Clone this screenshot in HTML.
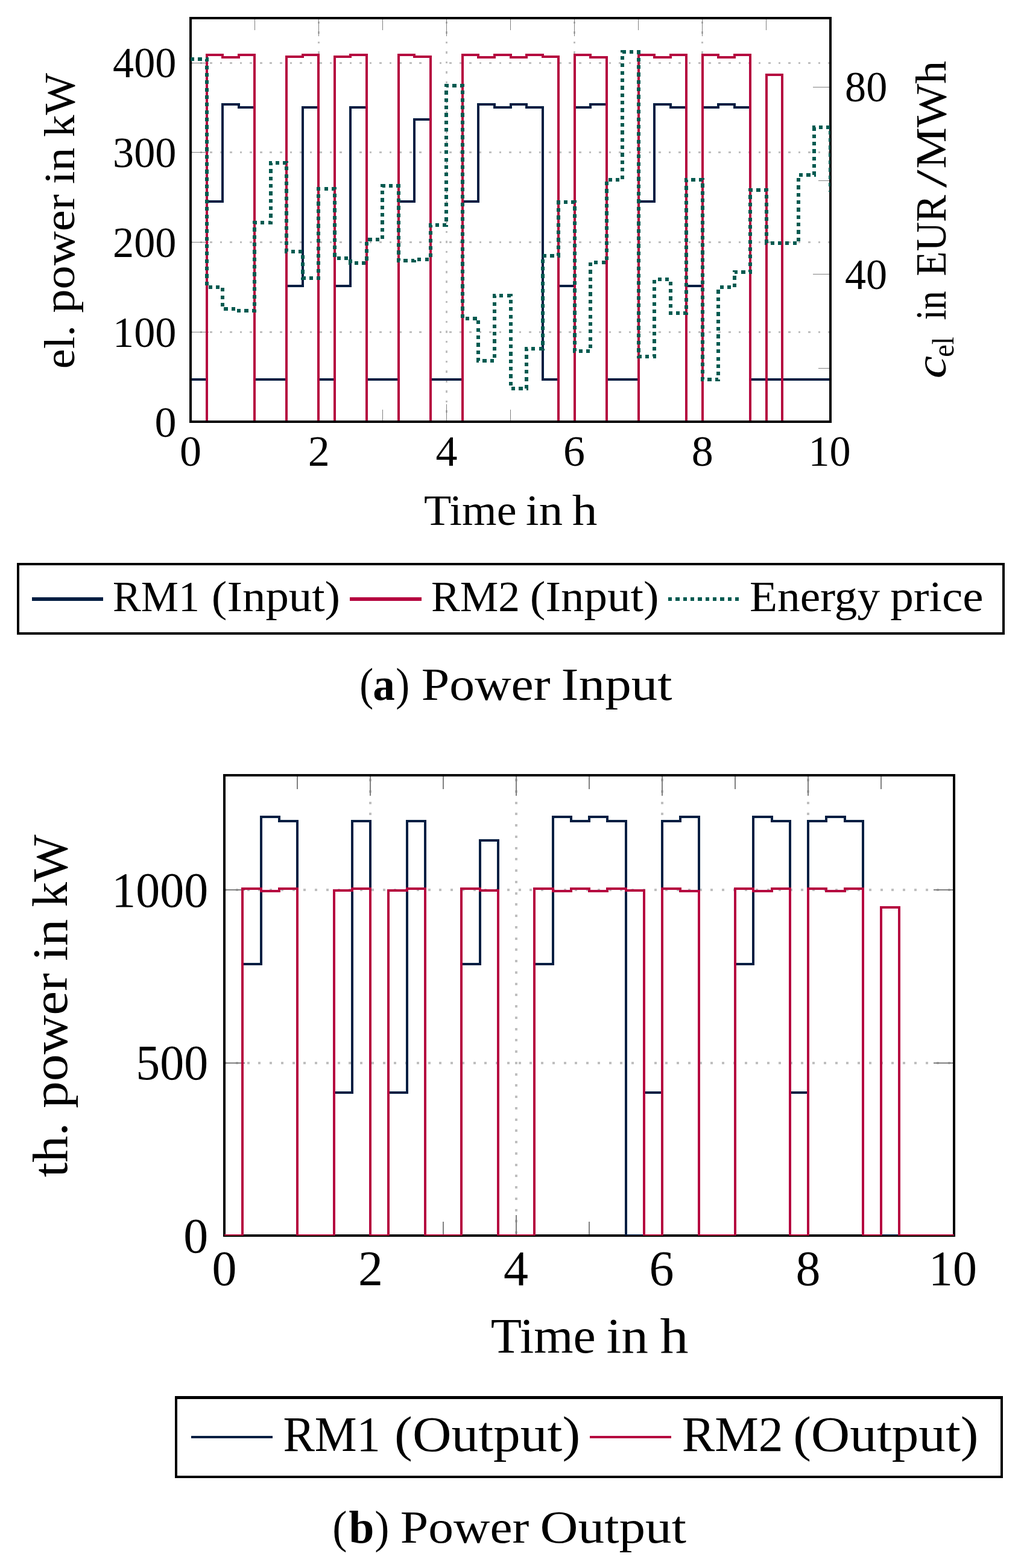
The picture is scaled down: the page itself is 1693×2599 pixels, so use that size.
<!DOCTYPE html>
<html lang="en"><head><meta charset="utf-8"><title>Power Input / Power Output</title>
<style>html,body{margin:0;padding:0;background:#fff}svg{display:block}text{font-family:"Liberation Serif", "DejaVu Serif", serif;fill:#000}</style>
</head><body>
<svg width="1693" height="2599" viewBox="0 0 1693 2599">
<rect width="1693" height="2599" fill="#fff"/>
<g shape-rendering="crispEdges" fill="none">
<clipPath id="c1"><rect x="316.00" y="30.00" width="1061.00" height="669.00"/></clipPath>
<line x1="528.50" y1="700.50" x2="528.50" y2="30.00" stroke="#BFBFBF" stroke-width="3.00" stroke-dasharray="3.600 12.933"/>
<line x1="740.50" y1="700.50" x2="740.50" y2="30.00" stroke="#BFBFBF" stroke-width="3.00" stroke-dasharray="3.600 12.933"/>
<line x1="952.50" y1="700.50" x2="952.50" y2="30.00" stroke="#BFBFBF" stroke-width="3.00" stroke-dasharray="3.600 12.933"/>
<line x1="1164.50" y1="700.50" x2="1164.50" y2="30.00" stroke="#BFBFBF" stroke-width="3.00" stroke-dasharray="3.600 12.933"/>
<line x1="315.20" y1="550.50" x2="1377.00" y2="550.50" stroke="#BFBFBF" stroke-width="3.00" stroke-dasharray="3.600 12.933"/>
<line x1="315.20" y1="401.50" x2="1377.00" y2="401.50" stroke="#BFBFBF" stroke-width="3.00" stroke-dasharray="3.600 12.933"/>
<line x1="315.20" y1="252.50" x2="1377.00" y2="252.50" stroke="#BFBFBF" stroke-width="3.00" stroke-dasharray="3.600 12.933"/>
<line x1="315.20" y1="104.50" x2="1377.00" y2="104.50" stroke="#BFBFBF" stroke-width="3.00" stroke-dasharray="3.600 12.933"/>
<line x1="528.20" y1="30.00" x2="528.20" y2="59.50" stroke="#808080" stroke-width="1.00"/>
<line x1="528.20" y1="699.00" x2="528.20" y2="669.50" stroke="#808080" stroke-width="1.00"/>
<line x1="740.40" y1="30.00" x2="740.40" y2="59.50" stroke="#808080" stroke-width="1.00"/>
<line x1="740.40" y1="699.00" x2="740.40" y2="669.50" stroke="#808080" stroke-width="1.00"/>
<line x1="952.60" y1="30.00" x2="952.60" y2="59.50" stroke="#808080" stroke-width="1.00"/>
<line x1="952.60" y1="699.00" x2="952.60" y2="669.50" stroke="#808080" stroke-width="1.00"/>
<line x1="1164.80" y1="30.00" x2="1164.80" y2="59.50" stroke="#808080" stroke-width="1.00"/>
<line x1="1164.80" y1="699.00" x2="1164.80" y2="669.50" stroke="#808080" stroke-width="1.00"/>
<line x1="422.10" y1="30.00" x2="422.10" y2="49.70" stroke="#808080" stroke-width="1.00"/>
<line x1="422.10" y1="699.00" x2="422.10" y2="679.30" stroke="#808080" stroke-width="1.00"/>
<line x1="634.30" y1="30.00" x2="634.30" y2="49.70" stroke="#808080" stroke-width="1.00"/>
<line x1="634.30" y1="699.00" x2="634.30" y2="679.30" stroke="#808080" stroke-width="1.00"/>
<line x1="846.50" y1="30.00" x2="846.50" y2="49.70" stroke="#808080" stroke-width="1.00"/>
<line x1="846.50" y1="699.00" x2="846.50" y2="679.30" stroke="#808080" stroke-width="1.00"/>
<line x1="1058.70" y1="30.00" x2="1058.70" y2="49.70" stroke="#808080" stroke-width="1.00"/>
<line x1="1058.70" y1="699.00" x2="1058.70" y2="679.30" stroke="#808080" stroke-width="1.00"/>
<line x1="1270.90" y1="30.00" x2="1270.90" y2="49.70" stroke="#808080" stroke-width="1.00"/>
<line x1="1270.90" y1="699.00" x2="1270.90" y2="679.30" stroke="#808080" stroke-width="1.00"/>
<line x1="316.00" y1="550.50" x2="345.50" y2="550.50" stroke="#808080" stroke-width="1.00"/>
<line x1="316.00" y1="401.70" x2="345.50" y2="401.70" stroke="#808080" stroke-width="1.00"/>
<line x1="316.00" y1="252.90" x2="345.50" y2="252.90" stroke="#808080" stroke-width="1.00"/>
<line x1="316.00" y1="104.10" x2="345.50" y2="104.10" stroke="#808080" stroke-width="1.00"/>
<line x1="1377.00" y1="144.40" x2="1347.50" y2="144.40" stroke="#808080" stroke-width="1.00"/>
<line x1="1377.00" y1="454.40" x2="1347.50" y2="454.40" stroke="#808080" stroke-width="1.00"/>
<line x1="1377.00" y1="299.40" x2="1357.30" y2="299.40" stroke="#808080" stroke-width="1.00"/>
<line x1="1377.00" y1="610.40" x2="1357.30" y2="610.40" stroke="#808080" stroke-width="1.00"/>
<rect x="316.00" y="30.00" width="1061.00" height="669.00" stroke="#000" stroke-width="4.00"/>
<path clip-path="url(#c1)" d="M316.00 629.40H342.52V334.00H369.05V173.00H395.57V178.00H422.10V629.40H448.62H475.15V474.00H501.67V178.00H528.20V629.40H554.73V474.00H581.25V178.00H607.77V629.40H634.30H660.83V334.00H687.35V198.40H713.88V629.40H740.40H766.92V334.00H793.45V173.00H819.97V178.00H846.50V173.00H873.02V178.00H899.55V629.40H926.07V474.00H952.60V178.00H979.12V173.00H1005.65V629.40H1032.17H1058.70V334.00H1085.22V173.00H1111.75V178.00H1138.28V474.00H1164.80V178.00H1191.32V173.00H1217.85V178.00H1244.38V629.40H1270.90H1297.42H1323.95H1350.47H1377.00" stroke="#041E42" stroke-width="4.00" stroke-linejoin="miter"/>
<path clip-path="url(#c1)" d="M316.00 699.50H342.52V91.00H369.05V95.00H395.57V91.00H422.10V699.50H448.62H475.15V94.30H501.67V91.00H528.20V699.50H554.73V94.30H581.25V91.00H607.77V699.50H634.30H660.83V91.00H687.35V94.30H713.88V699.50H740.40H766.92V91.00H793.45V95.00H819.97V91.00H846.50V95.00H873.02V91.00H899.55V94.30H926.07V699.50H952.60V91.00H979.12V95.00H1005.65V699.50H1032.17H1058.70V91.00H1085.22V95.00H1111.75V91.00H1138.28V699.50H1164.80V91.00H1191.32V95.00H1217.85V91.00H1244.38V699.50H1270.90V124.00H1297.42V699.50H1323.95H1350.47H1377.00" stroke="#B5053F" stroke-width="4.00" stroke-linejoin="miter"/>
<rect x="316.00" y="30.00" width="1061.00" height="669.00" stroke="#000" stroke-width="4.00"/>
<path clip-path="url(#c1)" d="M316.00 98.00H342.52V476.00H369.05V512.00H395.57V515.00H422.10V369.00H448.62V270.00H475.15V417.00H501.67V461.00H528.20V313.00H554.73V428.00H581.25V436.00H607.77V397.00H634.30V308.00H660.83V431.50H687.35V429.50H713.88V373.00H740.40V142.00H766.92V528.00H793.45V598.40H819.97V490.40H846.50V643.60H873.02V578.00H899.55V424.00H926.07V335.40H952.60V582.40H979.12V435.00H1005.65V298.00H1032.17V86.00H1058.70V590.60H1085.22V463.00H1111.75V519.40H1138.28V298.00H1164.80V629.20H1191.32V476.40H1217.85V450.60H1244.38V315.00H1270.90V403.00H1297.42H1323.95V290.00H1350.47V211.40H1377.00V318.00" stroke="#005A50" stroke-width="6.00" stroke-linejoin="miter" stroke-dasharray="6.2 6.15"/>
</g>
<g shape-rendering="crispEdges" fill="none">
<clipPath id="c2"><rect x="372.00" y="1285.00" width="1210.00" height="763.00"/></clipPath>
<line x1="614.00" y1="2045.00" x2="614.00" y2="1285.00" stroke="#BFBFBF" stroke-width="4.00" stroke-dasharray="4.000 14.750"/>
<line x1="856.00" y1="2045.00" x2="856.00" y2="1285.00" stroke="#BFBFBF" stroke-width="4.00" stroke-dasharray="4.000 14.750"/>
<line x1="1098.00" y1="2045.00" x2="1098.00" y2="1285.00" stroke="#BFBFBF" stroke-width="4.00" stroke-dasharray="4.000 14.750"/>
<line x1="1340.00" y1="2045.00" x2="1340.00" y2="1285.00" stroke="#BFBFBF" stroke-width="4.00" stroke-dasharray="4.000 14.750"/>
<line x1="372.00" y1="1475.00" x2="1582.00" y2="1475.00" stroke="#BFBFBF" stroke-width="4.00" stroke-dasharray="4.000 14.750"/>
<line x1="372.00" y1="1762.00" x2="1582.00" y2="1762.00" stroke="#BFBFBF" stroke-width="4.00" stroke-dasharray="4.000 14.750"/>
<line x1="614.00" y1="1285.00" x2="614.00" y2="1318.78" stroke="#808080" stroke-width="2.00"/>
<line x1="614.00" y1="2048.00" x2="614.00" y2="2014.22" stroke="#808080" stroke-width="2.00"/>
<line x1="856.00" y1="1285.00" x2="856.00" y2="1318.78" stroke="#808080" stroke-width="2.00"/>
<line x1="856.00" y1="2048.00" x2="856.00" y2="2014.22" stroke="#808080" stroke-width="2.00"/>
<line x1="1098.00" y1="1285.00" x2="1098.00" y2="1318.78" stroke="#808080" stroke-width="2.00"/>
<line x1="1098.00" y1="2048.00" x2="1098.00" y2="2014.22" stroke="#808080" stroke-width="2.00"/>
<line x1="1340.00" y1="1285.00" x2="1340.00" y2="1318.78" stroke="#808080" stroke-width="2.00"/>
<line x1="1340.00" y1="2048.00" x2="1340.00" y2="2014.22" stroke="#808080" stroke-width="2.00"/>
<line x1="493.00" y1="1285.00" x2="493.00" y2="1307.56" stroke="#808080" stroke-width="2.00"/>
<line x1="493.00" y1="2048.00" x2="493.00" y2="2025.44" stroke="#808080" stroke-width="2.00"/>
<line x1="735.00" y1="1285.00" x2="735.00" y2="1307.56" stroke="#808080" stroke-width="2.00"/>
<line x1="735.00" y1="2048.00" x2="735.00" y2="2025.44" stroke="#808080" stroke-width="2.00"/>
<line x1="977.00" y1="1285.00" x2="977.00" y2="1307.56" stroke="#808080" stroke-width="2.00"/>
<line x1="977.00" y1="2048.00" x2="977.00" y2="2025.44" stroke="#808080" stroke-width="2.00"/>
<line x1="1219.00" y1="1285.00" x2="1219.00" y2="1307.56" stroke="#808080" stroke-width="2.00"/>
<line x1="1219.00" y1="2048.00" x2="1219.00" y2="2025.44" stroke="#808080" stroke-width="2.00"/>
<line x1="1461.00" y1="1285.00" x2="1461.00" y2="1307.56" stroke="#808080" stroke-width="2.00"/>
<line x1="1461.00" y1="2048.00" x2="1461.00" y2="2025.44" stroke="#808080" stroke-width="2.00"/>
<line x1="372.00" y1="1475.00" x2="405.78" y2="1475.00" stroke="#808080" stroke-width="2.00"/>
<line x1="372.00" y1="1761.60" x2="405.78" y2="1761.60" stroke="#808080" stroke-width="2.00"/>
<line x1="1582.00" y1="1475.00" x2="1548.22" y2="1475.00" stroke="#808080" stroke-width="2.00"/>
<line x1="1582.00" y1="1761.60" x2="1548.22" y2="1761.60" stroke="#808080" stroke-width="2.00"/>
<rect x="372.00" y="1285.00" width="1210.00" height="763.00" stroke="#000" stroke-width="4.40"/>
<path clip-path="url(#c2)" d="M372.00 2048.00H402.25V1598.00H432.50V1354.00H462.75V1361.00H493.00V2048.00H523.25H553.50V1811.00H583.75V1361.00H614.00V2048.00H644.25V1811.00H674.50V1361.00H704.75V2048.00H735.00H765.25V1598.00H795.50V1393.00H825.75V2048.00H856.00H886.25V1598.00H916.50V1354.00H946.75V1361.00H977.00V1354.00H1007.25V1361.00H1037.50V2048.00H1067.75V1811.00H1098.00V1361.00H1128.25V1354.00H1158.50V2048.00H1188.75H1219.00V1598.00H1249.25V1354.00H1279.50V1361.00H1309.75V1811.00H1340.00V1361.00H1370.25V1354.00H1400.50V1361.00H1430.75V2048.00H1461.00H1491.25H1521.50H1551.75H1582.00" stroke="#041E42" stroke-width="4.00" stroke-linejoin="miter"/>
<path clip-path="url(#c2)" d="M372.00 2048.00H402.25V1473.00H432.50V1477.00H462.75V1473.00H493.00V2048.00H523.25H553.50V1476.00H583.75V1473.00H614.00V2048.00H644.25V1476.00H674.50V1473.00H704.75V2048.00H735.00H765.25V1473.00H795.50V1476.00H825.75V2048.00H856.00H886.25V1473.00H916.50V1477.00H946.75V1473.00H977.00V1477.00H1007.25V1473.00H1037.50V1476.00H1067.75V2048.00H1098.00V1473.00H1128.25V1477.00H1158.50V2048.00H1188.75H1219.00V1473.00H1249.25V1477.00H1279.50V1473.00H1309.75V2048.00H1340.00V1473.00H1370.25V1477.00H1400.50V1473.00H1430.75V2048.00H1461.00V1504.00H1491.25V2048.00H1521.50H1551.75H1582.00" stroke="#B5053F" stroke-width="4.00" stroke-linejoin="miter"/>
</g>
<text font-size="72.0"><tspan y="870.0" x="702.97" textLength="153.52" lengthAdjust="spacingAndGlyphs">Time</tspan> <tspan y="870.0" x="871.81" textLength="61.30" lengthAdjust="spacingAndGlyphs">in</tspan> <tspan y="870.0" x="948.84" textLength="41.72" lengthAdjust="spacingAndGlyphs">h</tspan></text>
<text font-size="72.0"><tspan y="1012.6" x="187.06" textLength="143.88" lengthAdjust="spacingAndGlyphs">RM1</tspan> <tspan y="1012.6" x="350.80" textLength="213.34" lengthAdjust="spacingAndGlyphs">(Input)</tspan></text>
<text font-size="72.0"><tspan y="1012.6" x="715.01" textLength="147.00" lengthAdjust="spacingAndGlyphs">RM2</tspan> <tspan y="1012.6" x="878.79" textLength="213.75" lengthAdjust="spacingAndGlyphs">(Input)</tspan></text>
<text font-size="72.0"><tspan y="1012.6" x="1242.91" textLength="216.35" lengthAdjust="spacingAndGlyphs">Energy</tspan> <tspan y="1012.6" x="1476.23" textLength="154.39" lengthAdjust="spacingAndGlyphs">price</tspan></text>
<text font-size="76.5"><tspan y="1159.6" x="596.30" textLength="22.94" lengthAdjust="spacingAndGlyphs">(</tspan><tspan y="1159.6" x="618.13" textLength="36.56" lengthAdjust="spacingAndGlyphs" font-weight="bold">a</tspan><tspan y="1159.6" x="656.20" textLength="22.94" lengthAdjust="spacingAndGlyphs">)</tspan> <tspan y="1159.6" x="698.81" textLength="213.72" lengthAdjust="spacingAndGlyphs">Power</tspan> <tspan y="1159.6" x="930.58" textLength="183.97" lengthAdjust="spacingAndGlyphs">Input</tspan></text>
<text font-size="82.0"><tspan y="2241.8" x="813.68" textLength="174.17" lengthAdjust="spacingAndGlyphs">Time</tspan> <tspan y="2241.8" x="1005.42" textLength="69.44" lengthAdjust="spacingAndGlyphs">in</tspan> <tspan y="2241.8" x="1094.55" textLength="46.99" lengthAdjust="spacingAndGlyphs">h</tspan></text>
<text font-size="82.0"><tspan y="2405.0" x="469.38" textLength="161.53" lengthAdjust="spacingAndGlyphs">RM1</tspan> <tspan y="2405.0" x="654.14" textLength="308.08" lengthAdjust="spacingAndGlyphs">(Output)</tspan></text>
<text font-size="82.0"><tspan y="2405.0" x="1130.81" textLength="167.78" lengthAdjust="spacingAndGlyphs">RM2</tspan> <tspan y="2405.0" x="1315.15" textLength="307.36" lengthAdjust="spacingAndGlyphs">(Output)</tspan></text>
<text font-size="76.5"><tspan y="2557.0" x="551.15" textLength="24.21" lengthAdjust="spacingAndGlyphs">(</tspan><tspan y="2557.0" x="578.62" textLength="41.88" lengthAdjust="spacingAndGlyphs" font-weight="bold">b</tspan><tspan y="2557.0" x="621.30" textLength="24.21" lengthAdjust="spacingAndGlyphs">)</tspan> <tspan y="2557.0" x="663.82" textLength="213.51" lengthAdjust="spacingAndGlyphs">Power</tspan> <tspan y="2557.0" x="895.58" textLength="242.41" lengthAdjust="spacingAndGlyphs">Output</tspan></text>
<text font-size="72.0" transform="translate(123.0 0) rotate(-90)"><tspan y="0.0" x="-611.29" textLength="72.11" lengthAdjust="spacingAndGlyphs">el.</tspan> <tspan y="0.0" x="-518.79" textLength="196.62" lengthAdjust="spacingAndGlyphs">power</tspan> <tspan y="0.0" x="-305.17" textLength="60.77" lengthAdjust="spacingAndGlyphs">in</tspan> <tspan y="0.0" x="-227.32" textLength="106.29" lengthAdjust="spacingAndGlyphs">kW</tspan></text>
<text font-size="72.0" transform="translate(1568.0 0) rotate(-90)"><tspan y="0.0" x="-627.34" textLength="37.48" lengthAdjust="spacingAndGlyphs" font-style="italic">c</tspan><tspan y="12.5" x="-591.84" textLength="33.56" lengthAdjust="spacingAndGlyphs" font-size="50.5">el</tspan> <tspan y="0.0" x="-530.42" textLength="48.30" lengthAdjust="spacingAndGlyphs">in</tspan> <tspan y="0.0" x="-457.67" textLength="134.67" lengthAdjust="spacingAndGlyphs">EUR</tspan><tspan y="0.0" x="-311.30" textLength="30.02" lengthAdjust="spacingAndGlyphs">/</tspan><tspan y="0.0" x="-279.53" textLength="178.88" lengthAdjust="spacingAndGlyphs">MWh</tspan></text>
<text font-size="82.0" transform="translate(111.0 0) rotate(-90)"><tspan y="0.0" x="-1951.38" textLength="90.78" lengthAdjust="spacingAndGlyphs">th.</tspan> <tspan y="0.0" x="-1837.09" textLength="224.10" lengthAdjust="spacingAndGlyphs">power</tspan> <tspan y="0.0" x="-1592.67" textLength="69.24" lengthAdjust="spacingAndGlyphs">in</tspan> <tspan y="0.0" x="-1503.43" textLength="120.14" lengthAdjust="spacingAndGlyphs">kW</tspan></text>
<g>
<text x="256.50" y="723.5" font-size="72.0">0</text>
<text x="187.12" y="574.7" font-size="72.0" textLength="105.30" lengthAdjust="spacingAndGlyphs">100</text>
<text x="187.12" y="425.9" font-size="72.0" textLength="105.30" lengthAdjust="spacingAndGlyphs">200</text>
<text x="187.12" y="277.1" font-size="72.0" textLength="105.30" lengthAdjust="spacingAndGlyphs">300</text>
<text x="187.12" y="128.3" font-size="72.0" textLength="105.30" lengthAdjust="spacingAndGlyphs">400</text>
<text x="298.00" y="772.2" font-size="72.0">0</text>
<text x="510.70" y="772.2" font-size="72.0">2</text>
<text x="722.40" y="772.2" font-size="72.0">4</text>
<text x="934.10" y="772.2" font-size="72.0">6</text>
<text x="1146.80" y="772.2" font-size="72.0">8</text>
<text x="1340.44" y="772.2" font-size="72.0" textLength="70.20" lengthAdjust="spacingAndGlyphs">10</text>
<text x="1401.08" y="168.4" font-size="72.0" textLength="70.20" lengthAdjust="spacingAndGlyphs">80</text>
<text x="1401.03" y="478.7" font-size="72.0" textLength="70.20" lengthAdjust="spacingAndGlyphs">40</text>
<text x="304.30" y="2075.5" font-size="82.0">0</text>
<text x="225.30" y="1789.1" font-size="82.0" textLength="119.92" lengthAdjust="spacingAndGlyphs">500</text>
<text x="185.33" y="1502.5" font-size="82.0" textLength="159.90" lengthAdjust="spacingAndGlyphs">1000</text>
<text x="351.50" y="2130.0" font-size="82.0">0</text>
<text x="594.00" y="2130.0" font-size="82.0">2</text>
<text x="835.00" y="2130.0" font-size="82.0">4</text>
<text x="1076.50" y="2130.0" font-size="82.0">6</text>
<text x="1319.50" y="2130.0" font-size="82.0">8</text>
<text x="1540.08" y="2130.0" font-size="82.0" textLength="79.95" lengthAdjust="spacingAndGlyphs">10</text>
</g>
<g shape-rendering="crispEdges" fill="none">
<rect x="30" y="935" width="1634" height="115" stroke="#000" stroke-width="4"/>
<line x1="53.00" y1="993.00" x2="171.00" y2="993.00" stroke="#041E42" stroke-width="6.00"/>
<line x1="580.00" y1="993.00" x2="699.00" y2="993.00" stroke="#B5053F" stroke-width="6.00"/>
<line x1="1108.00" y1="993.00" x2="1227.00" y2="993.00" stroke="#005A50" stroke-width="6.00" stroke-dasharray="6.2 6.15"/>
<rect x="292" y="2316.5" width="1369" height="131.5" stroke="#000" stroke-width="4.4"/>
<line x1="317.00" y1="2382.00" x2="452.00" y2="2382.00" stroke="#041E42" stroke-width="4.00"/>
<line x1="978.00" y1="2382.00" x2="1112.50" y2="2382.00" stroke="#B5053F" stroke-width="4.00"/>
</g>
</svg>
</body></html>
